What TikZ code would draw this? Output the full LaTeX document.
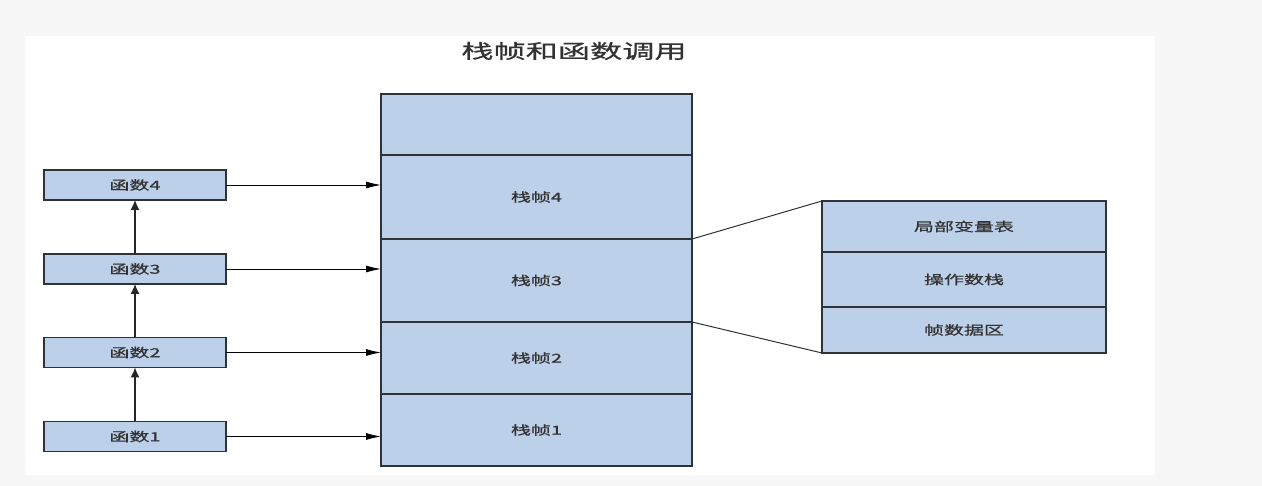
\documentclass[tikz,border=0pt]{standalone}
\usepackage{fontspec}
\newfontfamily\cjk[FakeStretch=1.6,FakeBold=0.8]{Noto Sans CJK SC}
\newfontfamily\cjktitle[FakeStretch=1.65,FakeBold=0.8]{Noto Sans CJK SC}
\usetikzlibrary{arrows.meta}
\definecolor{bg}{HTML}{F7F7F7}
\definecolor{cellfill}{HTML}{BDD0E9}
\definecolor{edge}{HTML}{2E3338}
\definecolor{txt}{HTML}{333333}
\tikzset{
  cell/.style={draw=edge, line width=1.2pt, fill=cellfill, inner sep=0pt, outer sep=0pt,
    text=txt, font=\cjk\fontsize{12.5}{14}\selectfont},
  fbox/.style={cell, minimum width=182pt, minimum height=30pt},
  sbox/.style={cell, minimum width=311pt},
  rbox/.style={cell, minimum width=284pt},
  harrow/.style={-{Latex[length=15pt,width=7pt]}, line width=0.9pt, draw=black},
  varrow/.style={-{Latex[length=10pt,width=9pt]}, line width=1.2pt, draw=black!85},
  link/.style={line width=1pt, draw=edge}
}
\begin{document}
\begin{tikzpicture}[x=1pt,y=-1pt]
\fill[bg] (0,0) rectangle (1262,486);
\useasboundingbox (0,0) rectangle (1262,486);
\fill[white] (25,36) rectangle (1155,475);
\node[text=txt, font=\cjktitle\fontsize{19.5}{22}\selectfont] (title) at (574,51) {栈帧和函数调用};
% left function boxes
\node[fbox] (f4) at (135,185) {函数4};
\node[fbox] (f3) at (135,269) {函数3};
\node[fbox] (f2) at (135,352.5) {函数2};
\node[fbox] (f1) at (135,436.5) {函数1};
% stack
\node[sbox, minimum height=61pt] (s5) at (536.5,124.5) {};
\node[sbox, minimum height=84pt] (s4) at (536.5,197) {栈帧4};
\node[sbox, minimum height=83pt] (s3) at (536.5,280.5) {栈帧3};
\node[sbox, minimum height=72pt] (s2) at (536.5,358) {栈帧2};
\node[sbox, minimum height=72pt] (s1) at (536.5,430) {栈帧1};
% right frame detail
\node[rbox, minimum height=51pt] (r1) at (964,226.5) {局部变量表};
\node[rbox, minimum height=55pt] (r2) at (964,279.5) {操作数栈};
\node[rbox, minimum height=46pt] (r3) at (964,330) {帧数据区};
% arrows
\foreach \a/\b in {f4/s4, f3/s3, f2/s2, f1/s1}
  \draw[harrow] (\a.east) -- (\a.east -| \b.west);
\foreach \a/\b in {f1/f2, f2/f3, f3/f4}
  \draw[varrow] (\a.north) -- (\b.south);
% links
\draw[link] (s3.north east) -- (r1.north west);
\draw[link] (s3.south east) -- (r3.south west);
\end{tikzpicture}
\end{document}
